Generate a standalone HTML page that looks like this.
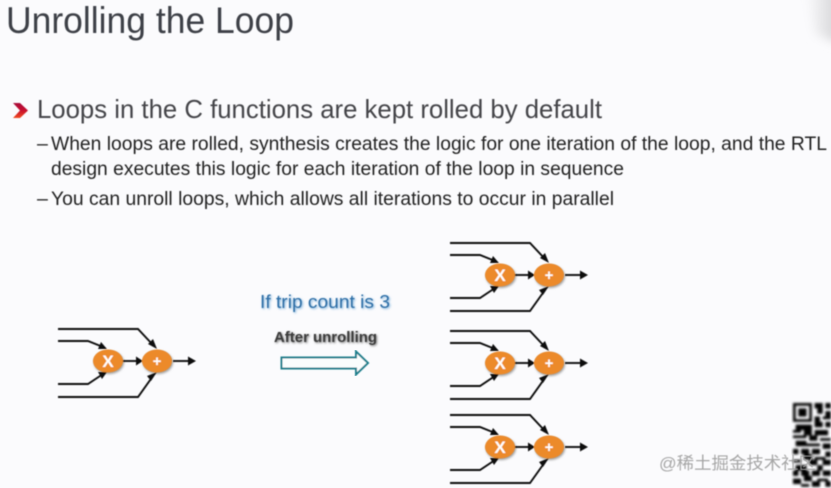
<!DOCTYPE html>
<html><head><meta charset="utf-8"><style>
html,body{margin:0;padding:0;background:#fbfbfd;width:831px;height:488px;overflow:hidden}
svg{display:block}
text{font-family:"Liberation Sans","Noto Sans CJK SC",sans-serif}
.s{font-size:19.5px;fill:#242424}
.xl{font-size:17px;font-weight:bold;fill:#fff;text-anchor:middle}
.pl{font-size:15px;font-weight:bold;fill:#fff;text-anchor:middle}
</style></head><body>
<svg width="831" height="488" viewBox="0 0 831 488" xmlns="http://www.w3.org/2000/svg">
<defs>
<linearGradient id="ch" x1="0" y1="0" x2="0" y2="1"><stop offset="0" stop-color="#a80f3c"/><stop offset=".5" stop-color="#c8102e"/><stop offset="1" stop-color="#f04a20"/></linearGradient>
<linearGradient id="cor" x1="0" y1="0" x2="1" y2="0"><stop offset="0" stop-color="#fbfbfd"/><stop offset="1" stop-color="#d2d2d4"/></linearGradient>
<filter id="b" x="-5%" y="-5%" width="110%" height="110%"><feGaussianBlur stdDeviation=".5"/></filter>
<filter id="b2"><feGaussianBlur stdDeviation="1.2"/></filter>
<filter id="b3" x="-30%" y="-30%" width="160%" height="160%"><feGaussianBlur stdDeviation="5"/></filter>
<g id="w" fill="none" stroke="#111" stroke-width="1.9">
<path d="M58 329H138L153 345"/><path d="M58 341H88L103 347"/><path d="M58 384H88L103 374"/><path d="M58 397H138L153 376"/>
<path d="M122 361H138"/><path d="M173 361H188"/>
</g>
<g id="h" fill="#111">
<path d="M157 349L148 344L153 339Z"/>
<path d="M107 349L98 349L101 342Z"/>
<path d="M107 372L98 372L102 379Z"/>
<path d="M157 372L151 381L147 376L152 374Z"/>
<path d="M143 361L136 356.500V365.500Z"/>
<path d="M196 361L188 356.500V365.500Z"/>
</g>
<g id="sh" fill="#a0a0a0" filter="url(#b2)">
<ellipse cx="109" cy="362.500" rx="15" ry="11.500"/><ellipse cx="158" cy="362.500" rx="15" ry="11.500"/>
</g>
</defs>
<rect width="831" height="488" fill="#fbfbfd"/>
<path d="M806 -10H840V44L815 34Z" fill="url(#cor)" filter="url(#b3)"/>

<g filter="url(#b)">
<text x="6" y="33" font-size="37" fill="#3d4046" textLength="288" lengthAdjust="spacingAndGlyphs">Unrolling the Loop</text>
<path d="M13 103H20L28 110.500L20 118H13L20 110.500Z" fill="url(#ch)"/>
<text x="37" y="118" font-size="26" fill="#444548" textLength="565" lengthAdjust="spacingAndGlyphs">Loops in the C functions are kept rolled by default</text>
<text x="37" y="150" class="s">–</text>
<text x="51" y="150" class="s" textLength="776" lengthAdjust="spacingAndGlyphs">When loops are rolled, synthesis creates the logic for one iteration of the loop, and the RTL</text>
<text x="51" y="175" class="s" textLength="573" lengthAdjust="spacingAndGlyphs">design executes this logic for each iteration of the loop in sequence</text>
<text x="37" y="205" class="s">–</text>
<text x="51" y="205" class="s" textLength="563" lengthAdjust="spacingAndGlyphs">You can unroll loops, which allows all iterations to occur in parallel</text>
</g>

<text x="261" y="309" font-size="18.5" fill="#7fb2dc" filter="url(#b2)" textLength="130" lengthAdjust="spacingAndGlyphs">If trip count is 3</text>
<text x="260" y="308" font-size="18.5" fill="#2f6ea6" filter="url(#b)" textLength="130" lengthAdjust="spacingAndGlyphs">If trip count is 3</text>
<text x="275" y="343" font-size="14.5" font-weight="bold" fill="#777" filter="url(#b2)" textLength="103" lengthAdjust="spacingAndGlyphs">After unrolling</text>
<text x="274" y="342" font-size="14.5" font-weight="bold" fill="#3a3a3a" filter="url(#b)" textLength="103" lengthAdjust="spacingAndGlyphs">After unrolling</text>
<path d="M281.500 357.500H356V351.500L368 363L356 374.500V368.500H281.500Z" fill="#fbfdfd" stroke="#1f7f8c" stroke-width="2" filter="url(#b)"/>

<g>
<g>
<use href="#sh"/><g filter="url(#b)"><use href="#w"/><use href="#h"/>
<ellipse cx="108" cy="361" rx="15" ry="11.500" fill="#ec8a2b"/><ellipse cx="157" cy="361" rx="15" ry="11.500" fill="#ec8a2b"/>
<text x="108" y="367" class="xl">X</text><text x="157" y="366" class="pl">+</text></g>
</g>
<g transform="translate(392,-86)">
<use href="#sh"/><g filter="url(#b)"><use href="#w"/><use href="#h"/>
<ellipse cx="108" cy="361" rx="15" ry="11.500" fill="#ec8a2b"/><ellipse cx="157" cy="361" rx="15" ry="11.500" fill="#ec8a2b"/>
<text x="108" y="367" class="xl">X</text><text x="157" y="366" class="pl">+</text></g>
</g>
<g transform="translate(392,2)">
<use href="#sh"/><g filter="url(#b)"><use href="#w"/><use href="#h"/>
<ellipse cx="108" cy="361" rx="15" ry="11.500" fill="#ec8a2b"/><ellipse cx="157" cy="361" rx="15" ry="11.500" fill="#ec8a2b"/>
<text x="108" y="367" class="xl">X</text><text x="157" y="366" class="pl">+</text></g>
</g>
<g transform="translate(392,86)">
<use href="#sh"/><g filter="url(#b)"><use href="#w"/><use href="#h"/>
<ellipse cx="108" cy="361" rx="15" ry="11.500" fill="#ec8a2b"/><ellipse cx="157" cy="361" rx="15" ry="11.500" fill="#ec8a2b"/>
<text x="108" y="367" class="xl">X</text><text x="157" y="366" class="pl">+</text></g>
</g>
</g>

<g transform="translate(793,403) scale(2.7)" filter="url(#b)" fill="#000">
<path d="M0 0h7v7h-7zM1 1v5h5v-5z" fill-rule="evenodd"/>
<rect x="2" y="2" width="3" height="3"/>
<path d="M8 0h3v2h-3zM12 0h2v2h-2zM9 2h2v2h-2zM12 3h2v2h-2zM8 5h2v2h-2zM11 5h3v1h-3zM12 7h2v2h-2zM8 7h3v2h-3z"/>
<path d="M1 8h6v2h-6zM0 10h3v1h-3zM4 10h3v2h-3zM8 10h5v2h-5zM0 12h5v1h-5zM6 12h3v2h-3zM10 13h4v1h-4zM1 14h4v2h-4zM5 15h5v1h-5zM11 15h3v2h-3zM0 17h2v2h-2zM3 17h3v2h-3zM7 17h3v2h-3zM12 18h2v2h-2zM4 19h3v2h-3zM8 20h4v1h-4zM0 21h3v1h-3zM6 21h3v2h-3zM11 21h3v2h-3zM1 23h4v2h-4zM9 23h2v2h-2zM0 25h2v2h-2zM3 25h3v2h-3zM7 25h3v2h-3zM11 25h3v2h-3zM4 27h3v2h-3zM9 28h4v1h-4zM0 28h3v2h-3zM7 29h3v2h-3zM12 29h2v2h-2zM3 30h3v1h-3z"/>
</g>

<text x="659" y="469" font-size="17" fill="#9c9c9c" fill-opacity=".9" filter="url(#b)" textLength="157" lengthAdjust="spacingAndGlyphs">@稀土掘金技术社区</text>
</svg>
</body></html>
